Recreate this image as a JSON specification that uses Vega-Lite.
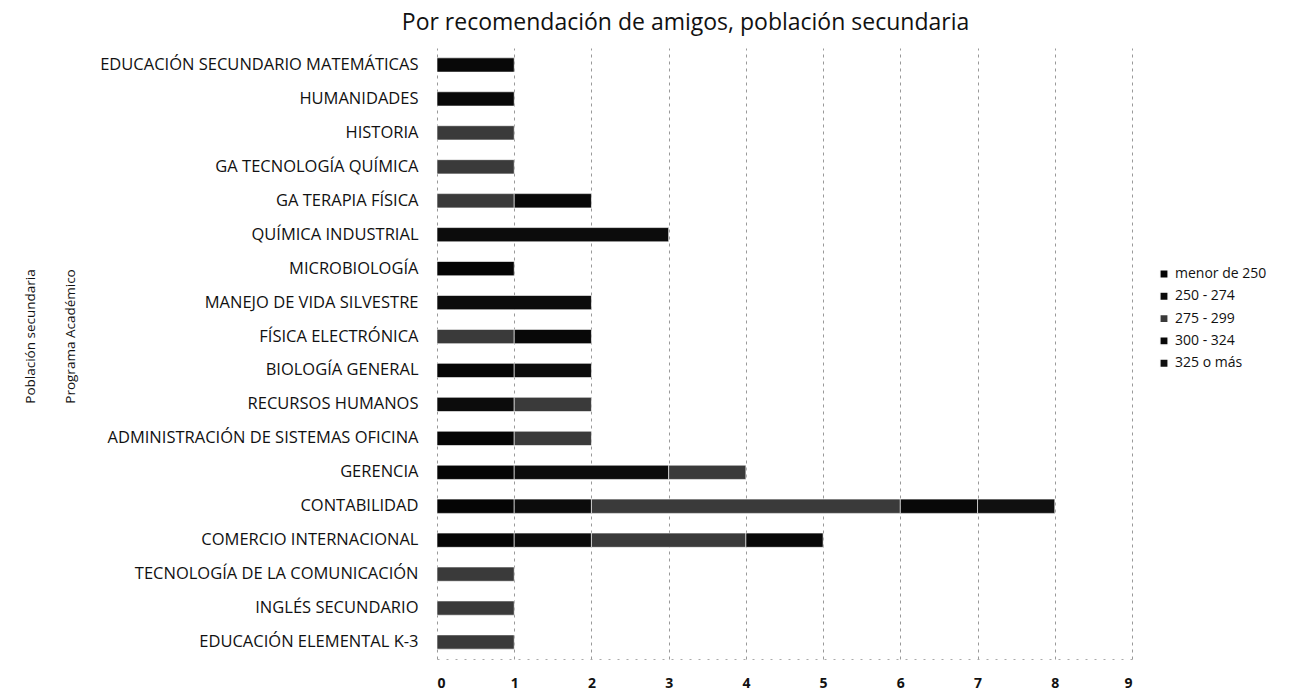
{
  "$schema": "https://vega.github.io/schema/vega-lite/v6.json",
  "autosize": {"type": "none"},
  "padding": {"left": 437, "top": 48, "right": 172, "bottom": 33},
  "width": 695,
  "height": 611,
  "background": "white",
  "config": {"view": {"stroke": null}},
  "title": {
    "text": "Por recomendación de amigos, población secundaria",
    "font": "Open Sans",
    "fontSize": 23,
    "fontWeight": "normal",
    "color": "#111",
    "anchor": "middle",
    "frame": "group",
    "dx": -99,
    "offset": 13
  },
  "data": {
    "values": [
      {"programa": "EDUCACIÓN SECUNDARIO MATEMÁTICAS", "rango": "300 - 324", "orden": 4, "n": 1},
      {"programa": "HUMANIDADES", "rango": "300 - 324", "orden": 4, "n": 1},
      {"programa": "HISTORIA", "rango": "275 - 299", "orden": 3, "n": 1},
      {"programa": "GA   TECNOLOGÍA QUÍMICA", "rango": "275 - 299", "orden": 3, "n": 1},
      {"programa": "GA   TERAPIA FÍSICA", "rango": "275 - 299", "orden": 3, "n": 1},
      {"programa": "GA   TERAPIA FÍSICA", "rango": "300 - 324", "orden": 4, "n": 1},
      {"programa": "QUÍMICA INDUSTRIAL", "rango": "250 - 274", "orden": 2, "n": 3},
      {"programa": "MICROBIOLOGÍA", "rango": "menor de 250", "orden": 1, "n": 1},
      {"programa": "MANEJO DE VIDA SILVESTRE", "rango": "250 - 274", "orden": 2, "n": 2},
      {"programa": "FÍSICA ELECTRÓNICA", "rango": "275 - 299", "orden": 3, "n": 1},
      {"programa": "FÍSICA ELECTRÓNICA", "rango": "300 - 324", "orden": 4, "n": 1},
      {"programa": "BIOLOGÍA GENERAL", "rango": "menor de 250", "orden": 1, "n": 1},
      {"programa": "BIOLOGÍA GENERAL", "rango": "250 - 274", "orden": 2, "n": 1},
      {"programa": "RECURSOS HUMANOS", "rango": "250 - 274", "orden": 2, "n": 1},
      {"programa": "RECURSOS HUMANOS", "rango": "275 - 299", "orden": 3, "n": 1},
      {"programa": "ADMINISTRACIÓN DE SISTEMAS OFICINA", "rango": "menor de 250", "orden": 1, "n": 1},
      {"programa": "ADMINISTRACIÓN DE SISTEMAS OFICINA", "rango": "275 - 299", "orden": 3, "n": 1},
      {"programa": "GERENCIA", "rango": "menor de 250", "orden": 1, "n": 1},
      {"programa": "GERENCIA", "rango": "250 - 274", "orden": 2, "n": 2},
      {"programa": "GERENCIA", "rango": "275 - 299", "orden": 3, "n": 1},
      {"programa": "CONTABILIDAD", "rango": "menor de 250", "orden": 1, "n": 1},
      {"programa": "CONTABILIDAD", "rango": "250 - 274", "orden": 2, "n": 1},
      {"programa": "CONTABILIDAD", "rango": "275 - 299", "orden": 3, "n": 4},
      {"programa": "CONTABILIDAD", "rango": "300 - 324", "orden": 4, "n": 1},
      {"programa": "CONTABILIDAD", "rango": "325 o más", "orden": 5, "n": 1},
      {"programa": "COMERCIO INTERNACIONAL", "rango": "menor de 250", "orden": 1, "n": 1},
      {"programa": "COMERCIO INTERNACIONAL", "rango": "250 - 274", "orden": 2, "n": 1},
      {"programa": "COMERCIO INTERNACIONAL", "rango": "275 - 299", "orden": 3, "n": 2},
      {"programa": "COMERCIO INTERNACIONAL", "rango": "300 - 324", "orden": 4, "n": 1},
      {"programa": "TECNOLOGÍA DE LA COMUNICACIÓN", "rango": "275 - 299", "orden": 3, "n": 1},
      {"programa": "INGLÉS SECUNDARIO", "rango": "275 - 299", "orden": 3, "n": 1},
      {"programa": "EDUCACIÓN ELEMENTAL K-3", "rango": "275 - 299", "orden": 3, "n": 1}
    ]
  },
  "mark": {"type": "bar", "stroke": "white", "strokeWidth": 0.6},
  "encoding": {
    "y": {
      "field": "programa",
      "type": "nominal",
      "sort": null,
      "scale": {"paddingInner": 0.58, "paddingOuter": 0.29},
      "axis": {
        "title": ["Población secundaria", "Programa Académico"],
        "titleFont": "Open Sans",
        "titleFontSize": 13.5,
        "titleFontWeight": "normal",
        "titleColor": "#111",
        "titleLineHeight": 40,
        "titleX": -400,
        "titleY": 288,
        "titleAlign": "center",
        "labelFont": "Open Sans",
        "labelFontSize": 16.5,
        "labelColor": "#111",
        "labelPadding": 19,
        "labelLimit": 0,
        "ticks": false,
        "domain": false,
        "grid": false
      }
    },
    "x": {
      "field": "n",
      "type": "quantitative",
      "aggregate": "sum",
      "stack": "zero",
      "scale": {"domain": [0, 9], "nice": false},
      "axis": {
        "title": null,
        "values": [0, 1, 2, 3, 4, 5, 6, 7, 8, 9],
        "format": "d",
        "labelFont": "Open Sans",
        "labelFontSize": 14,
        "labelFontWeight": "bold",
        "labelColor": "#111",
        "labelPadding": 17,
        "ticks": false,
        "domain": true,
        "domainColor": "#aaa",
        "domainDash": [2, 7],
        "grid": true,
        "gridColor": "#999",
        "gridDash": [3, 4],
        "gridWidth": 1
      }
    },
    "order": {"field": "orden", "type": "quantitative"},
    "color": {
      "field": "rango",
      "type": "nominal",
      "scale": {
        "domain": ["menor de 250", "250 - 274", "275 - 299", "300 - 324", "325 o más"],
        "range": ["#050505", "#0c0c0c", "#3a3a3a", "#080808", "#101010"]
      },
      "legend": {
        "title": null,
        "orient": "none",
        "legendX": 720,
        "legendY": 219,
        "symbolType": "square",
        "symbolSize": 70,
        "labelFont": "Open Sans",
        "labelFontSize": 14,
        "labelColor": "#111",
        "rowPadding": 6.3,
        "labelOffset": 4
      }
    }
  }
}
